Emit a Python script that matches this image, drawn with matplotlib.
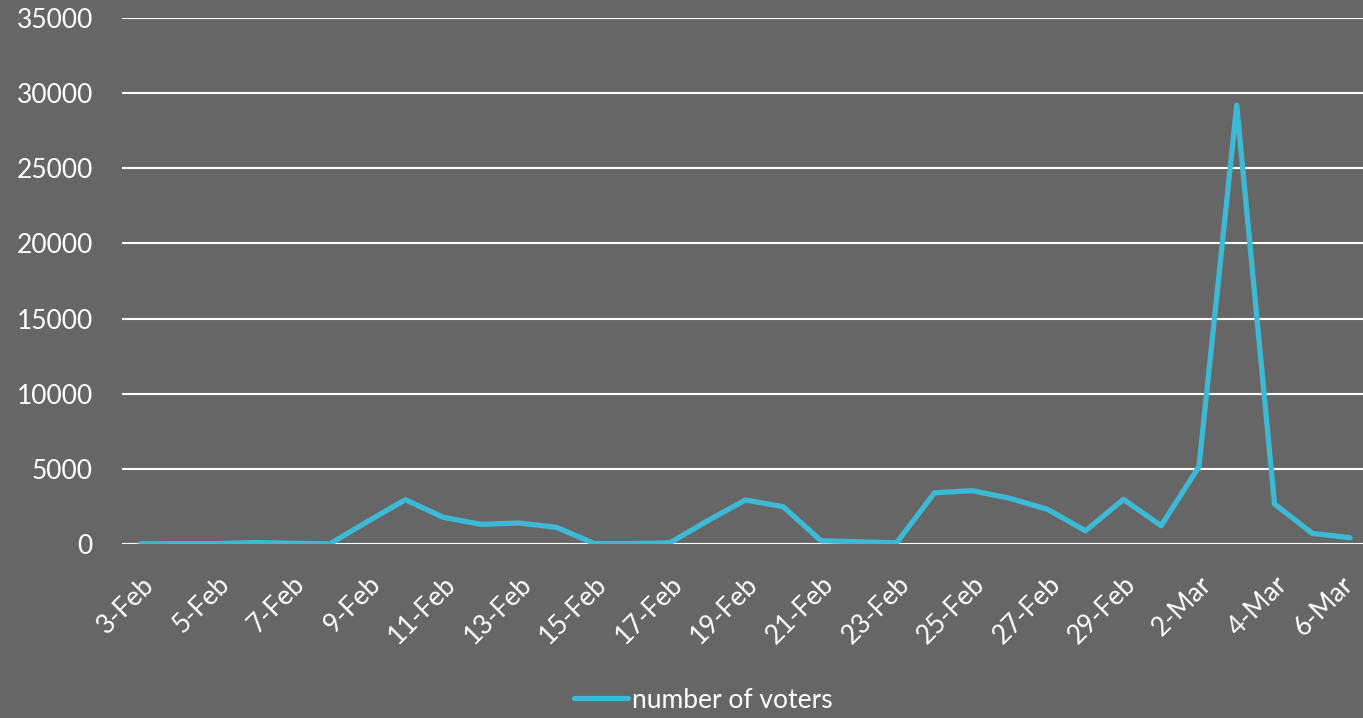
import matplotlib
matplotlib.use("Agg")
import matplotlib.pyplot as plt
import matplotlib.transforms as mtransforms

# dates, 3-Feb to 6-Mar (2020, leap year)
dates = ["3-Feb", "4-Feb", "5-Feb", "6-Feb", "7-Feb", "8-Feb", "9-Feb", "10-Feb",
         "11-Feb", "12-Feb", "13-Feb", "14-Feb", "15-Feb", "16-Feb", "17-Feb",
         "18-Feb", "19-Feb", "20-Feb", "21-Feb", "22-Feb", "23-Feb", "24-Feb",
         "25-Feb", "26-Feb", "27-Feb", "28-Feb", "29-Feb", "1-Mar", "2-Mar",
         "3-Mar", "4-Mar", "5-Mar", "6-Mar"]
voters = [10, 20, 20, 100, 50, 10, 1500, 2950,
          1780, 1310, 1400, 1110, 30, 30, 80,
          1550, 2930, 2480, 220, 150, 80, 3410,
          3550, 3040, 2300, 880, 2970, 1220, 5150,
          29200, 2660, 710, 420]
yticks = [0, 5000, 10000, 15000, 20000, 25000, 30000, 35000]

bg = "#666666"
line_col = "#3cb9d4"
fs = 19

plt.rcParams["font.family"] = ["Lato", "DejaVu Sans"]

fig = plt.figure(figsize=(13.63, 7.18), dpi=100, facecolor=bg)
ax = fig.add_axes([0.0895, 0.2423, 0.9149, 0.7326])
ax.set_facecolor(bg)

x = list(range(len(dates)))
ax.plot(x, voters, color=line_col, lw=3.8, solid_capstyle="round",
        solid_joinstyle="round", label="number of voters", zorder=3)

ax.set_xlim(-0.5, len(dates) - 0.5)
ax.set_ylim(0, 35000)
ax.set_yticks(yticks)
ax.set_yticklabels([str(v) for v in yticks], fontsize=fs, color="white")
ax.grid(axis="y", color="white", lw=1.5, zorder=1)
ax.set_axisbelow(True)

ax.tick_params(axis="both", length=0)
ax.tick_params(axis="x", pad=20)
ax.tick_params(axis="y", pad=21)

ax.set_xticks(x[::2])
ax.set_xticklabels(dates[::2], fontsize=fs, color="white", rotation=45,
                   ha="right", va="top", rotation_mode="anchor")
# pull the last label in a little so it stays inside the figure
last = ax.get_xticklabels()[-1]
off = mtransforms.ScaledTranslation(-7 / 72, 0, fig.dpi_scale_trans)
last.set_transform(last.get_transform() + off)

for s in ax.spines.values():
    s.set_visible(False)

leg = fig.legend(loc="center", bbox_to_anchor=(0.516, 0.025), frameon=False,
                 fontsize=fs, handlelength=2.05, handletextpad=0.15)
for t in leg.get_texts():
    t.set_color("white")

fig.savefig("out.png", dpi=100, facecolor=bg)
